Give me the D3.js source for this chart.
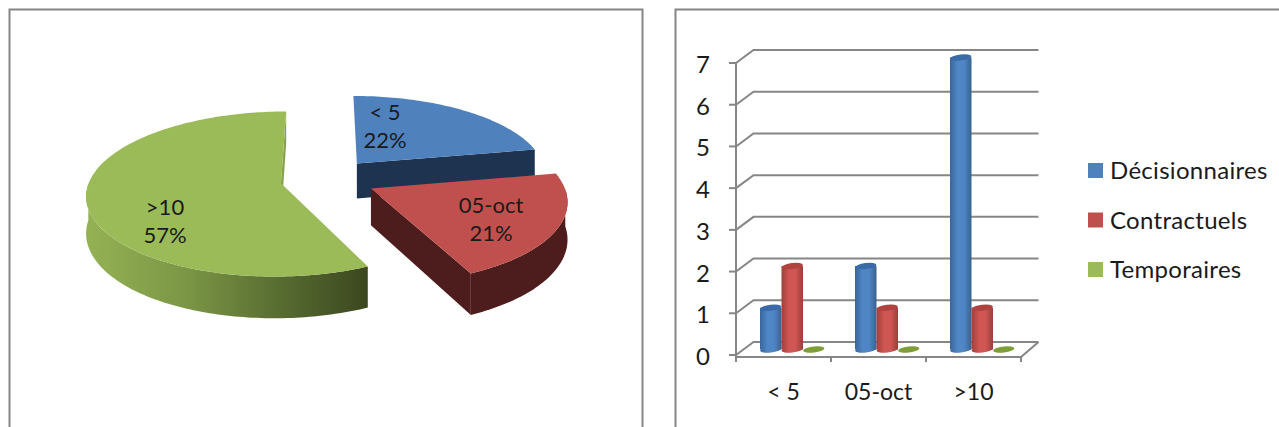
<!DOCTYPE html>
<html>
<head>
<meta charset="utf-8">
<script src="https://cdn.jsdelivr.net/npm/d3@7"></script>
<style>
  html, body { margin: 0; background: #fff; }
  text { font-family: Lato, "Open Sans", sans-serif; fill: #1a1a1a; }
</style>
</head>
<body>
<script>
// data
const categories = ["< 5", "05-oct", ">10"];
const pieValues = [22, 21, 57];
const seriesNames = ["Décisionnaires", "Contractuels", "Temporaires"];
const decisionnaires = [1, 2, 7];
const contractuels = [2, 1, 1];
const temporaires = [0, 0, 0];
const yTicks = [0, 1, 2, 3, 4, 5, 6, 7];

const blue = "#4f81bd", red = "#c0504d", green = "#9bbb59";
const colors = [blue, red, green];

const svg = d3.select("body").append("svg")
  .attr("width", 1279).attr("height", 427)
  .style("display", "block");
const defs = svg.append("defs");

function gradient(id, stops, units) {
  let g = defs.append("linearGradient").attr("id", id);
  if (units) {
    g.attr("gradientUnits", "userSpaceOnUse")
      .attr("x1", units[0]).attr("x2", units[1]).attr("y1", 0).attr("y2", 0);
  }
  stops.forEach(function (s) {
    g.append("stop").attr("offset", s[0]).attr("stop-color", s[1]);
  });
}

// frames (they run off the bottom of the picture)
svg.append("rect").attr("x", 9.5).attr("y", 9.5).attr("width", 633).attr("height", 440)
  .attr("fill", "#fff").attr("stroke", "#868686").attr("stroke-width", 2);
svg.append("rect").attr("x", 675.5).attr("y", 9.5).attr("width", 640).attr("height", 440)
  .attr("fill", "#fff").attr("stroke", "#868686").attr("stroke-width", 2);

// ---------- pie ----------
const pieCx = 326, pieCy = 179, pieRx = 191, pieRy = 80;
const persp = 0.13, pieDepth = 36;
const explode = [0.26, 0.26, 0.24];
const sideColors = ["#1e3350", "#4d1c1c", "url(#greenSide)"];
const endWall = ["#1e3350", "#4d1c1c", "#86a34c"];
const pieLabels = [[385, 113], [491, 206], [165, 208]];

gradient("greenSide", [[0, "#93b153"], [0.35, "#7b9645"], [0.7, "#566a30"], [1, "#3b471e"]], [90, 368]);

const line = d3.line();
const slices = d3.pie().sort(null).value(d => d)(pieValues);

function project(x, y, down) {
  let w = 1 / (1 - persp * y);
  return [pieCx + pieRx * x * w, pieCy + pieRy * y * w + (down ? pieDepth * w : 0)];
}

const gPie = svg.append("g");
slices.forEach(function (s, i) {
  let mid = (s.startAngle + s.endAngle) / 2;
  let ox = explode[i] * Math.sin(mid), oy = -explode[i] * Math.cos(mid);
  let at = function (a, down) { return project(ox + Math.sin(a), oy - Math.cos(a), down); };
  let apex = function (down) { return project(ox, oy, down); };
  let step = 0.02;
  let angles = d3.range(s.startAngle, s.endAngle, step).concat([s.endAngle]);

  // wall at the end of the slice
  gPie.append("path")
    .attr("d", line([apex(false), at(s.endAngle, false), at(s.endAngle, true), apex(true)]) + "Z")
    .attr("fill", endWall[i]);

  // outer wall, only the part that faces us
  let front = angles.filter(a => a >= Math.PI / 2 && a <= 3 * Math.PI / 2);
  if (front.length) {
    let pts = front.map(a => at(a, false)).concat(front.slice().reverse().map(a => at(a, true)));
    gPie.append("path").attr("d", line(pts) + "Z").attr("fill", sideColors[i]);
  }

  // top face
  let top = [apex(false)].concat(angles.map(a => at(a, false)));
  gPie.append("path").attr("d", line(top) + "Z").attr("fill", colors[i]);
});

slices.forEach(function (s, i) {
  let t = svg.append("text").attr("text-anchor", "middle").style("font-size", "22px");
  t.append("tspan").attr("x", pieLabels[i][0]).attr("y", pieLabels[i][1] + 7).text(categories[i]);
  t.append("tspan").attr("x", pieLabels[i][0]).attr("y", pieLabels[i][1] + 35).text(s.data + "%");
});

// ---------- 3d columns ----------
const x0 = d3.scaleBand().domain(categories).range([736, 1021]);
const y = d3.scaleLinear().domain([0, 7]).range([355, 63]);
const depthX = 17.5, depthY = 13;
const barW = 21.5;
const x1 = d3.scaleBand().domain(seriesNames).range([0, barW * 3]);
const barShift = (x0.bandwidth() - barW * 3) / 2 + depthX / 2;
const barLift = 5.5;
const axisColor = "#868686";

const gAxis = svg.append("g").attr("stroke", axisColor).attr("stroke-width", 2).attr("fill", "none");

// back wall lines and the side wall slants
yTicks.forEach(function (t) {
  let yy = y(t);
  gAxis.append("path").attr("d", line([
    [x0.range()[0], yy],
    [x0.range()[0] + depthX, yy - depthY],
    [x0.range()[1] + depthX, yy - depthY]
  ]));
  gAxis.append("line").attr("x1", x0.range()[0] - 7).attr("x2", x0.range()[0]).attr("y1", yy).attr("y2", yy);
});
// floor
gAxis.append("path").attr("d", line([
  [x0.range()[0], y(0) + 2],
  [x0.range()[1], y(0) + 2],
  [x0.range()[1] + depthX, y(0) - depthY]
]));
// y axis and x ticks
gAxis.append("line").attr("x1", x0.range()[0]).attr("x2", x0.range()[0]).attr("y1", y(7)).attr("y2", y(0) + 7);
categories.forEach(function (c) {
  let xx = x0(c) + x0.bandwidth();
  gAxis.append("line").attr("x1", xx).attr("x2", xx).attr("y1", y(0) + 2).attr("y2", y(0) + 7);
});

// tick labels
svg.append("g").selectAll("text").data(yTicks).join("text")
  .attr("x", 703).attr("y", d => y(d) + 10).attr("text-anchor", "middle")
  .style("font-size", "24px").text(d => d);
svg.append("g").selectAll("text").data(categories).join("text")
  .attr("x", d => x0(d) + x0.bandwidth() / 2).attr("y", 400).attr("text-anchor", "middle")
  .style("font-size", "23px").text(d => d);

// cylinders
gradient("cylBlue", [[0, "#3a659b"], [0.35, "#4f86c6"], [0.65, "#4f86c6"], [1, "#38628f"]]);
gradient("cylRed", [[0, "#a03f3c"], [0.35, "#cf5652"], [0.65, "#cf5652"], [1, "#97403d"]]);
const barFills = ["url(#cylBlue)", "url(#cylRed)", "#8aa83f"];
const capFills = ["#3b6ba6", "#b0433f", "#7f9e36"];

[decisionnaires, contractuels, temporaires].forEach(function (vals, si) {
  let g = svg.append("g");
  vals.forEach(function (v, ci) {
    let left = x0(categories[ci]) + barShift + x1(seriesNames[si]);
    let rx = barW / 2, ry = 3;
    let cx = left + rx;
    let yBase = y(0) - barLift, yTop = y(v) - barLift;
    let tilt = function (yy) { return "rotate(-7 " + cx + " " + yy + ")"; };
    if (v > 0) {
      g.append("ellipse").attr("cx", cx).attr("cy", yBase).attr("rx", rx).attr("ry", ry)
        .attr("transform", tilt(yBase)).attr("fill", barFills[si]);
      g.append("rect").attr("x", left).attr("y", yTop).attr("width", barW).attr("height", yBase - yTop)
        .attr("fill", barFills[si]);
    }
    g.append("ellipse").attr("cx", cx).attr("cy", yTop).attr("rx", rx).attr("ry", ry)
      .attr("transform", tilt(yTop)).attr("fill", capFills[si]);
  });
});

// legend
const legendY = d3.scalePoint().domain(seriesNames).range([171, 270]);
const legend = svg.append("g").selectAll("g").data(seriesNames).join("g");
legend.append("rect")
  .attr("x", 1088).attr("y", d => legendY(d) - 8).attr("width", 15).attr("height", 15)
  .attr("fill", (d, i) => colors[i]);
legend.append("text")
  .attr("x", 1110).attr("y", d => legendY(d) + 8)
  .style("font-size", "24px").style("letter-spacing", "0.3px").text(d => d);
</script>
</body>
</html>
